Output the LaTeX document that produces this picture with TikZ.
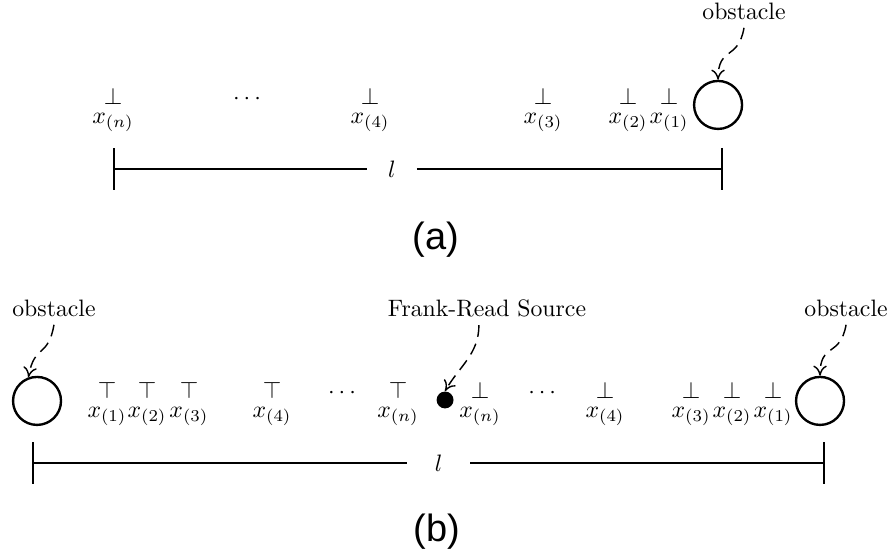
\documentclass[tikz,border=0pt]{standalone}
\usepackage{fontspec}
\usetikzlibrary{arrows.meta}
\newfontfamily\capfont{Liberation Sans}

\tikzset{
  obst/.style={circle, draw, line width=1pt, minimum size=7.1mm, inner sep=0pt},
  srcdot/.style={circle, fill=black, minimum size=2.5mm, inner sep=0pt},
  disl/.style={anchor=base, inner sep=1.5pt, label={[inner sep=1.5pt]below:$x_{(#1)}$}},
  tag/.style={anchor=base, inner sep=3pt},
  pointer/.style={-{To[length=1.5mm,width=2mm]}, dash pattern=on 5pt off 3pt, line width=0.6pt, looseness=1.5},
  lbar/.tip={Bar[width=6.2mm]},
  lenbar/.style={line width=1pt},
  lenlabel/.style={inner sep=0pt, minimum height=3mm},
  caption/.style={font=\capfont\fontsize{16}{19}\selectfont}
}

\begin{document}
\begin{tikzpicture}
  \useasboundingbox (0,0) rectangle (132mm,81.83mm);

  % (a) one pile-up against an obstacle
  \node[obst] (obsa) at (106.26mm,66.30mm) {};
  \node[tag] (obsatext) at (110.1mm,78.88mm) {obstacle};
  \node[disl=n] (an) at (16.72mm,66.30mm) {$\perp$};
  \node[tag] (dotsa) at (36.56mm,66.30mm) {$\cdots$};
  \node[disl=4] (a4) at (54.76mm,66.30mm) {$\perp$};
  \node[disl=3] (a3) at (80.36mm,66.30mm) {$\perp$};
  \node[disl=2] (a2) at (92.94mm,66.30mm) {$\perp$};
  \node[disl=1] (a1) at (99.01mm,66.30mm) {$\perp$};
  \draw[pointer] (obsatext.south) to[out=-100,in=90] (obsa.north);

  \coordinate (la0) at (16.72mm,56.83mm);
  \coordinate (la1) at (107.0mm,56.83mm);
  \node[lenlabel, minimum width=7.25mm] (lena) at (58.0mm,56.83mm) {$l$};
  \draw[lenbar, lbar-] (la0) -- (lena);
  \draw[lenbar, -lbar] (lena) -- (la1);

  \node[caption] (capa) at (64.5mm,46.3mm) {(a)};

  % (b) two pile-ups from a Frank-Read source
  \node[obst] (obsl) at (5.48mm,22.50mm) {};
  \node[tag] (obsltext) at (7.99mm,34.93mm) {obstacle};
  \node[obst] (obsr) at (121.35mm,22.50mm) {};
  \node[tag] (obsrtext) at (125.2mm,34.93mm) {obstacle};
  \node[srcdot] (frs) at (65.86mm,22.64mm) {};
  \node[tag] (frtext) at (72.07mm,34.93mm) {Frank-Read Source};

  \node[disl=1] (bt1) at (15.84mm,22.79mm) {$\top$};
  \node[disl=2] (bt2) at (21.76mm,22.79mm) {$\top$};
  \node[disl=3] (bt3) at (27.97mm,22.79mm) {$\top$};
  \node[disl=4] (bt4) at (40.26mm,22.79mm) {$\top$};
  \node[tag] (dotsbl) at (50.62mm,22.79mm) {$\cdots$};
  \node[disl=n] (btn) at (58.90mm,22.79mm) {$\top$};

  \node[disl=n] (brn) at (71.04mm,22.79mm) {$\perp$};
  \node[tag] (dotsbr) at (80.22mm,22.79mm) {$\cdots$};
  \node[disl=4] (br4) at (89.54mm,22.79mm) {$\perp$};
  \node[disl=3] (br3) at (102.27mm,22.79mm) {$\perp$};
  \node[disl=2] (br2) at (108.33mm,22.79mm) {$\perp$};
  \node[disl=1] (br1) at (114.40mm,22.79mm) {$\perp$};

  \draw[pointer] (obsltext.south) to[out=-100,in=80] (obsl.110);
  \draw[pointer] ([xshift=-1.2mm]frtext.south) to[out=-90,in=60, looseness=1] (frs.north);
  \draw[pointer] (obsrtext.south) to[out=-100,in=90] (obsr.north);

  \coordinate (lb0) at (4.74mm,13.32mm);
  \coordinate (lb1) at (122.1mm,13.32mm);
  \node[lenlabel, minimum width=9.3mm] (lenb) at (64.9mm,13.32mm) {$l$};
  \draw[lenbar, lbar-] (lb0) -- (lenb);
  \draw[lenbar, -lbar] (lenb) -- (lb1);

  \node[caption] (capb) at (64.67mm,3.11mm) {(b)};
\end{tikzpicture}
\end{document}
